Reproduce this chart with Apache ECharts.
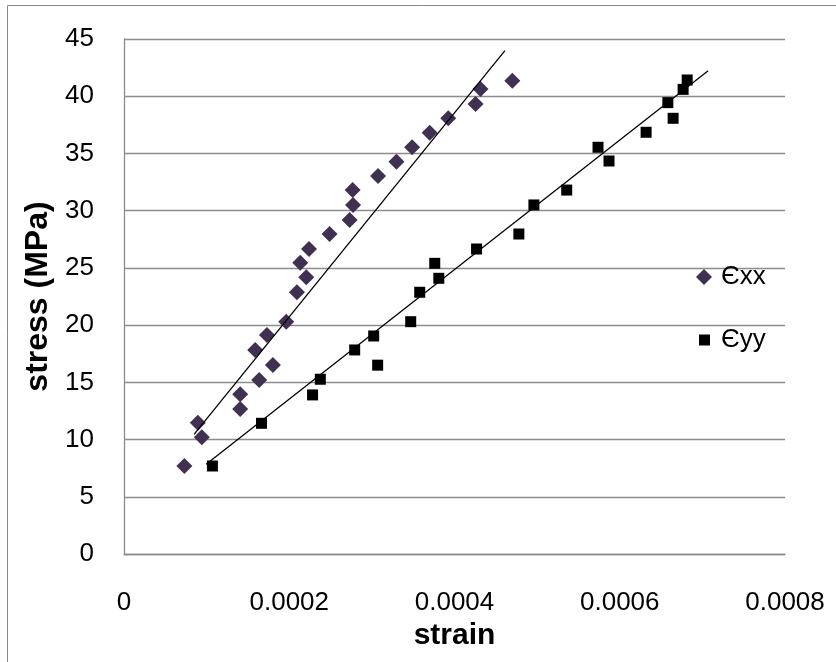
<!DOCTYPE html>
<html lang="en">
<head>
    <meta charset="UTF-8">
    <title>stress - strain</title>
    <style>
        html, body { margin: 0; padding: 0; background: #fff; }
        #main { width: 836px; height: 662px; }
    </style>
    <script src="https://cdn.jsdelivr.net/npm/echarts@6/dist/echarts.min.js"></script>
</head>
<body>
<div id="main"></div>
<script>
    // strain values
    const exxStrain = [0.0000731, 0.0000893, 0.0000942, 0.0001406, 0.0001406, 0.0001588, 0.0001636, 0.000173,
        0.0001802, 0.0001964, 0.0002093, 0.0002133, 0.0002206, 0.0002239, 0.0002488, 0.0002731, 0.0002772,
        0.0002767, 0.0003075, 0.0003297, 0.0003487, 0.00037, 0.0003924, 0.0004255, 0.0004315, 0.00047]
    const exxStress = [7.69, 11.47, 10.2, 13.95, 12.67, 17.83, 15.2, 19.14, 16.51, 20.3, 22.87, 25.45, 24.18,
        26.65, 27.96, 29.18, 30.5, 31.81, 33.03, 34.28, 35.54, 36.81, 38.07, 39.32, 40.63, 41.36]

    const eyyStrain = [0.000107, 0.0001664, 0.0002282, 0.0002376, 0.0002792, 0.000307, 0.0003022, 0.000347,
        0.0003579, 0.0003761, 0.000381, 0.0004267, 0.0004779, 0.0004961, 0.0005358, 0.0005737, 0.000587,
        0.0006319, 0.0006582, 0.0006646, 0.0006767, 0.0006816]
    const eyyStress = [7.69, 11.42, 13.9, 15.27, 17.83, 16.5, 19.05, 20.3, 22.87, 25.4, 24.09, 26.65, 27.96,
        30.5, 31.8, 35.54, 34.34, 36.85, 39.44, 38.07, 40.6, 41.42]

    // linear trendlines (end points)
    const exxTrendStrain = [0.0000848, 0.000461]
    const exxTrendStress = [10.46, 43.98]
    const eyyTrendStrain = [0.0000994, 0.000707]
    const eyyTrendStress = [7.84, 42.23]

    const xTicks = [0, 0.0002, 0.0004, 0.0006, 0.0008]
    const yTicks = [0, 5, 10, 15, 20, 25, 30, 35, 40, 45]

    const zip = (a, b) => a.map((v, i) => [v, b[i]])
    const FONT = '"Liberation Sans", Arial, sans-serif'

    document.addEventListener('DOMContentLoaded', () => {
        let myChart = echarts.init(document.getElementById('main'))
        let option = {
            animation: false,
            textStyle: {fontFamily: FONT, color: '#000'},
            graphic: [{
                type: 'rect',
                shape: {x: 7.5, y: 5.5, width: 900, height: 800},
                style: {fill: 'none', stroke: '#8a8a8a', lineWidth: 1},
                silent: true
            }],
            grid: {left: 124, right: 51, top: 39, bottom: 108},
            legend: [{
                data: ['Єxx'],
                orient: 'vertical',
                left: 696, top: 264,
                padding: 0,
                itemWidth: 16, itemHeight: 16,
                itemStyle: {opacity: 1},
                textStyle: {fontFamily: FONT, fontSize: 26, color: '#000', padding: [0, 0, 0, 4]}
            }, {
                data: ['Єyy'],
                orient: 'vertical',
                left: 699, top: 327,
                padding: 0,
                itemWidth: 11, itemHeight: 11,
                itemStyle: {opacity: 1},
                textStyle: {fontFamily: FONT, fontSize: 26, color: '#000', padding: [0, 0, 0, 6]}
            }],
            xAxis: {
                type: 'value',
                min: xTicks[0], max: xTicks[xTicks.length - 1],
                interval: xTicks[1] - xTicks[0],
                name: 'strain',
                nameLocation: 'middle',
                nameGap: 54,
                nameTextStyle: {fontFamily: FONT, fontSize: 30, fontWeight: 'bold', color: '#000'},
                axisLine: {show: true, lineStyle: {color: '#8c8c8c', width: 1.3}},
                axisTick: {show: false},
                splitLine: {show: false},
                axisLabel: {
                    margin: 36, fontSize: 26, color: '#000', fontFamily: FONT,
                    formatter: v => v === 0 ? '0' : v.toFixed(4)
                }
            },
            yAxis: {
                type: 'value',
                min: yTicks[0], max: yTicks[yTicks.length - 1],
                interval: yTicks[1] - yTicks[0],
                name: 'stress (MPa)',
                nameLocation: 'middle',
                nameGap: 70,
                nameRotate: 90,
                nameTextStyle: {fontFamily: FONT, fontSize: 32, fontWeight: 'bold', color: '#000'},
                axisLine: {show: true, lineStyle: {color: '#8c8c8c', width: 1.3}},
                axisTick: {show: false},
                splitLine: {show: true, lineStyle: {color: '#8c8c8c', width: 1.3}},
                axisLabel: {margin: 30, fontSize: 26, color: '#000', fontFamily: FONT}
            },
            series: [{
                name: 'Єxx',
                type: 'scatter',
                symbol: 'diamond',
                symbolSize: 16,
                itemStyle: {color: '#403152', opacity: 1},
                data: zip(exxStrain, exxStress),
                z: 3
            }, {
                name: 'Єyy',
                type: 'scatter',
                symbol: 'rect',
                symbolSize: 11,
                itemStyle: {color: '#000', opacity: 1},
                data: zip(eyyStrain, eyyStress),
                z: 3
            }, {
                name: 'trend xx',
                type: 'line',
                symbol: 'none',
                lineStyle: {color: '#000', width: 1.3},
                data: zip(exxTrendStrain, exxTrendStress),
                z: 4
            }, {
                name: 'trend yy',
                type: 'line',
                symbol: 'none',
                lineStyle: {color: '#000', width: 1.3},
                data: zip(eyyTrendStrain, eyyTrendStress),
                z: 4
            }]
        }
        myChart.setOption(option)
    })
</script>
</body>
</html>
